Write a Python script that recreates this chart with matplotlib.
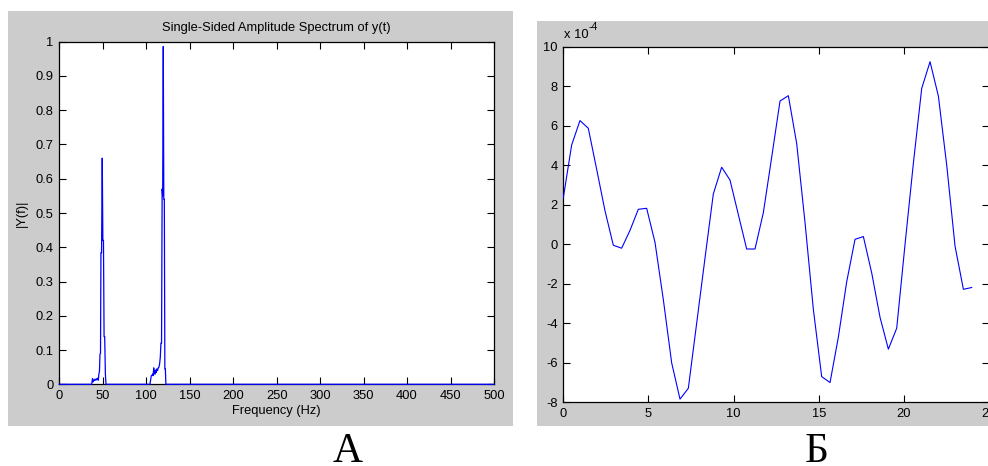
import numpy as np
import matplotlib
matplotlib.use("Agg")
import matplotlib.pyplot as plt
from matplotlib.patches import Rectangle

# ---------------- data ----------------
# Panel A: single-sided amplitude spectrum
freq_hz = [0, 37.2, 37.6, 38.2, 38.8, 39.4, 40.2, 41.0, 41.8, 42.6, 43.4, 44.2, 44.9,
           45.5, 46.2, 46.8, 47.4, 47.9, 48.6, 49.4, 50.1, 50.8, 51.5, 52.2, 53.0, 53.7,
           104.3, 105.0, 105.8, 106.6, 107.4, 108.0, 108.6, 109.2, 109.8, 110.4, 111.0,
           111.6, 112.2, 113.0, 113.8, 114.6, 115.4, 116.2, 116.9, 117.6, 118.3, 118.9,
           119.6, 120.2, 120.8, 121.4, 122.0, 122.6, 500]
amp_y = [0, 0, 0.006, 0.017, 0.007, 0.012, 0.011, 0.015, 0.012, 0.016, 0.013, 0.018, 0.012,
         0.030, 0.038, 0.088, 0.090, 0.384, 0.384, 0.660, 0.420, 0.420, 0.139, 0.139, 0.030, 0.0,
         0, 0.012, 0.025, 0.026, 0.030, 0.025, 0.048, 0.030, 0.040, 0.030, 0.042,
         0.035, 0.045, 0.040, 0.048, 0.050, 0.060, 0.080, 0.120, 0.120, 0.570, 0.550,
         0.986, 0.540, 0.540, 0.045, 0.045, 0.0, 0]
a_xticks = list(range(0, 501, 50))
a_yticks = [0, 0.1, 0.2, 0.3, 0.4, 0.5, 0.6, 0.7, 0.8, 0.9, 1]
a_yticklabels = ["0", "0.1", "0.2", "0.3", "0.4", "0.5", "0.6", "0.7", "0.8", "0.9", "1"]

# Panel B: time signal (units of 1e-4), uniformly sampled
b_step = 0.4895
b_vals = [2.35, 5.02, 6.26, 5.87, 3.8, 1.7, -0.05, -0.2, 0.7, 1.77,
          1.82, 0.1, -2.8, -6.0, -7.84, -7.29, -4.0, -0.7, 2.55, 3.9,
          3.25, 1.5, -0.24, -0.24, 1.6, 4.4, 7.25, 7.52, 5.1, 1.1,
          -3.3, -6.7, -7.0, -4.7, -1.9, 0.25, 0.39, -1.45, -3.7, -5.31,
          -4.25, 0.0, 4.1, 7.89, 9.24, 7.5, 4.0, -0.1, -2.28, -2.19]
b_xticks = [0, 5, 10, 15, 20, 25]
b_yticks = [-8, -6, -4, -2, 0, 2, 4, 6, 8, 10]
b_t = np.arange(len(b_vals)) * b_step

# ---------------- figure ----------------
W, H = 988, 466
plt.rcParams["font.family"] = ["Liberation Sans", "DejaVu Sans"]
plt.rcParams["axes.unicode_minus"] = False
fig = plt.figure(figsize=(W / 100, H / 100), dpi=100, facecolor="white")

def fx(px):
    return px / W

def fy(py):
    return 1 - py / H

gray = "#cccccc"
fig.add_artist(Rectangle((fx(8), fy(426)), fx(513) - fx(8), fy(11) - fy(426),
                         transform=fig.transFigure, facecolor=gray, edgecolor="none", zorder=0))
fig.add_artist(Rectangle((fx(537), fy(426)), fx(990) - fx(537), fy(21) - fy(426),
                         transform=fig.transFigure, facecolor=gray, edgecolor="none", zorder=0))

FS = 9.3

def style(ax):
    ax.set_facecolor("white")
    for s in ax.spines.values():
        s.set_linewidth(0.9)
        s.set_color("black")
    ax.tick_params(direction="in", length=5, width=0.8, top=True, right=True,
                   labelsize=FS, colors="black", pad=4)

# Panel A
axA = fig.add_axes([fx(59.3), fy(384.3), fx(494) - fx(59.3), fy(41.7) - fy(384.3)])
axA.plot(freq_hz, amp_y, color="#0000ff", lw=0.9, zorder=3, clip_on=False)
axA.set_xlim(0, 500)
axA.set_ylim(0, 1)
axA.set_xticks(a_xticks)
axA.set_yticks(a_yticks)
axA.set_yticklabels(a_yticklabels)
style(axA)
axA.set_title("Single-Sided Amplitude Spectrum of y(t)", fontsize=FS, pad=8)
axA.set_xlabel("Frequency (Hz)", fontsize=FS, labelpad=2)
axA.set_ylabel("|Y(f)|", fontsize=FS, labelpad=6)

# Panel B
axB = fig.add_axes([fx(563.3), fy(402.3), fx(989) - fx(563.3), fy(46.7) - fy(402.3)])
axB.plot(b_t, b_vals, color="#0000ff", lw=0.8, zorder=3)
axB.set_xlim(0, 25)
axB.set_ylim(-8, 10)
axB.set_xticks(b_xticks)
axB.set_yticks(b_yticks)
style(axB)
fig.text(fx(564), fy(35), "x 10", fontsize=FS, ha="left", va="center")
fig.text(fx(588.5), fy(27), "-4", fontsize=FS * 0.8, ha="left", va="center")

# panel letters
fig.text(fx(348), fy(462), "A", fontsize=30, family="Liberation Serif",
         ha="center", va="baseline")
fig.text(fx(817), fy(462), "Б", fontsize=30, family="Liberation Serif",
         ha="center", va="baseline")

fig.savefig("out.png", dpi=100, facecolor="white")
